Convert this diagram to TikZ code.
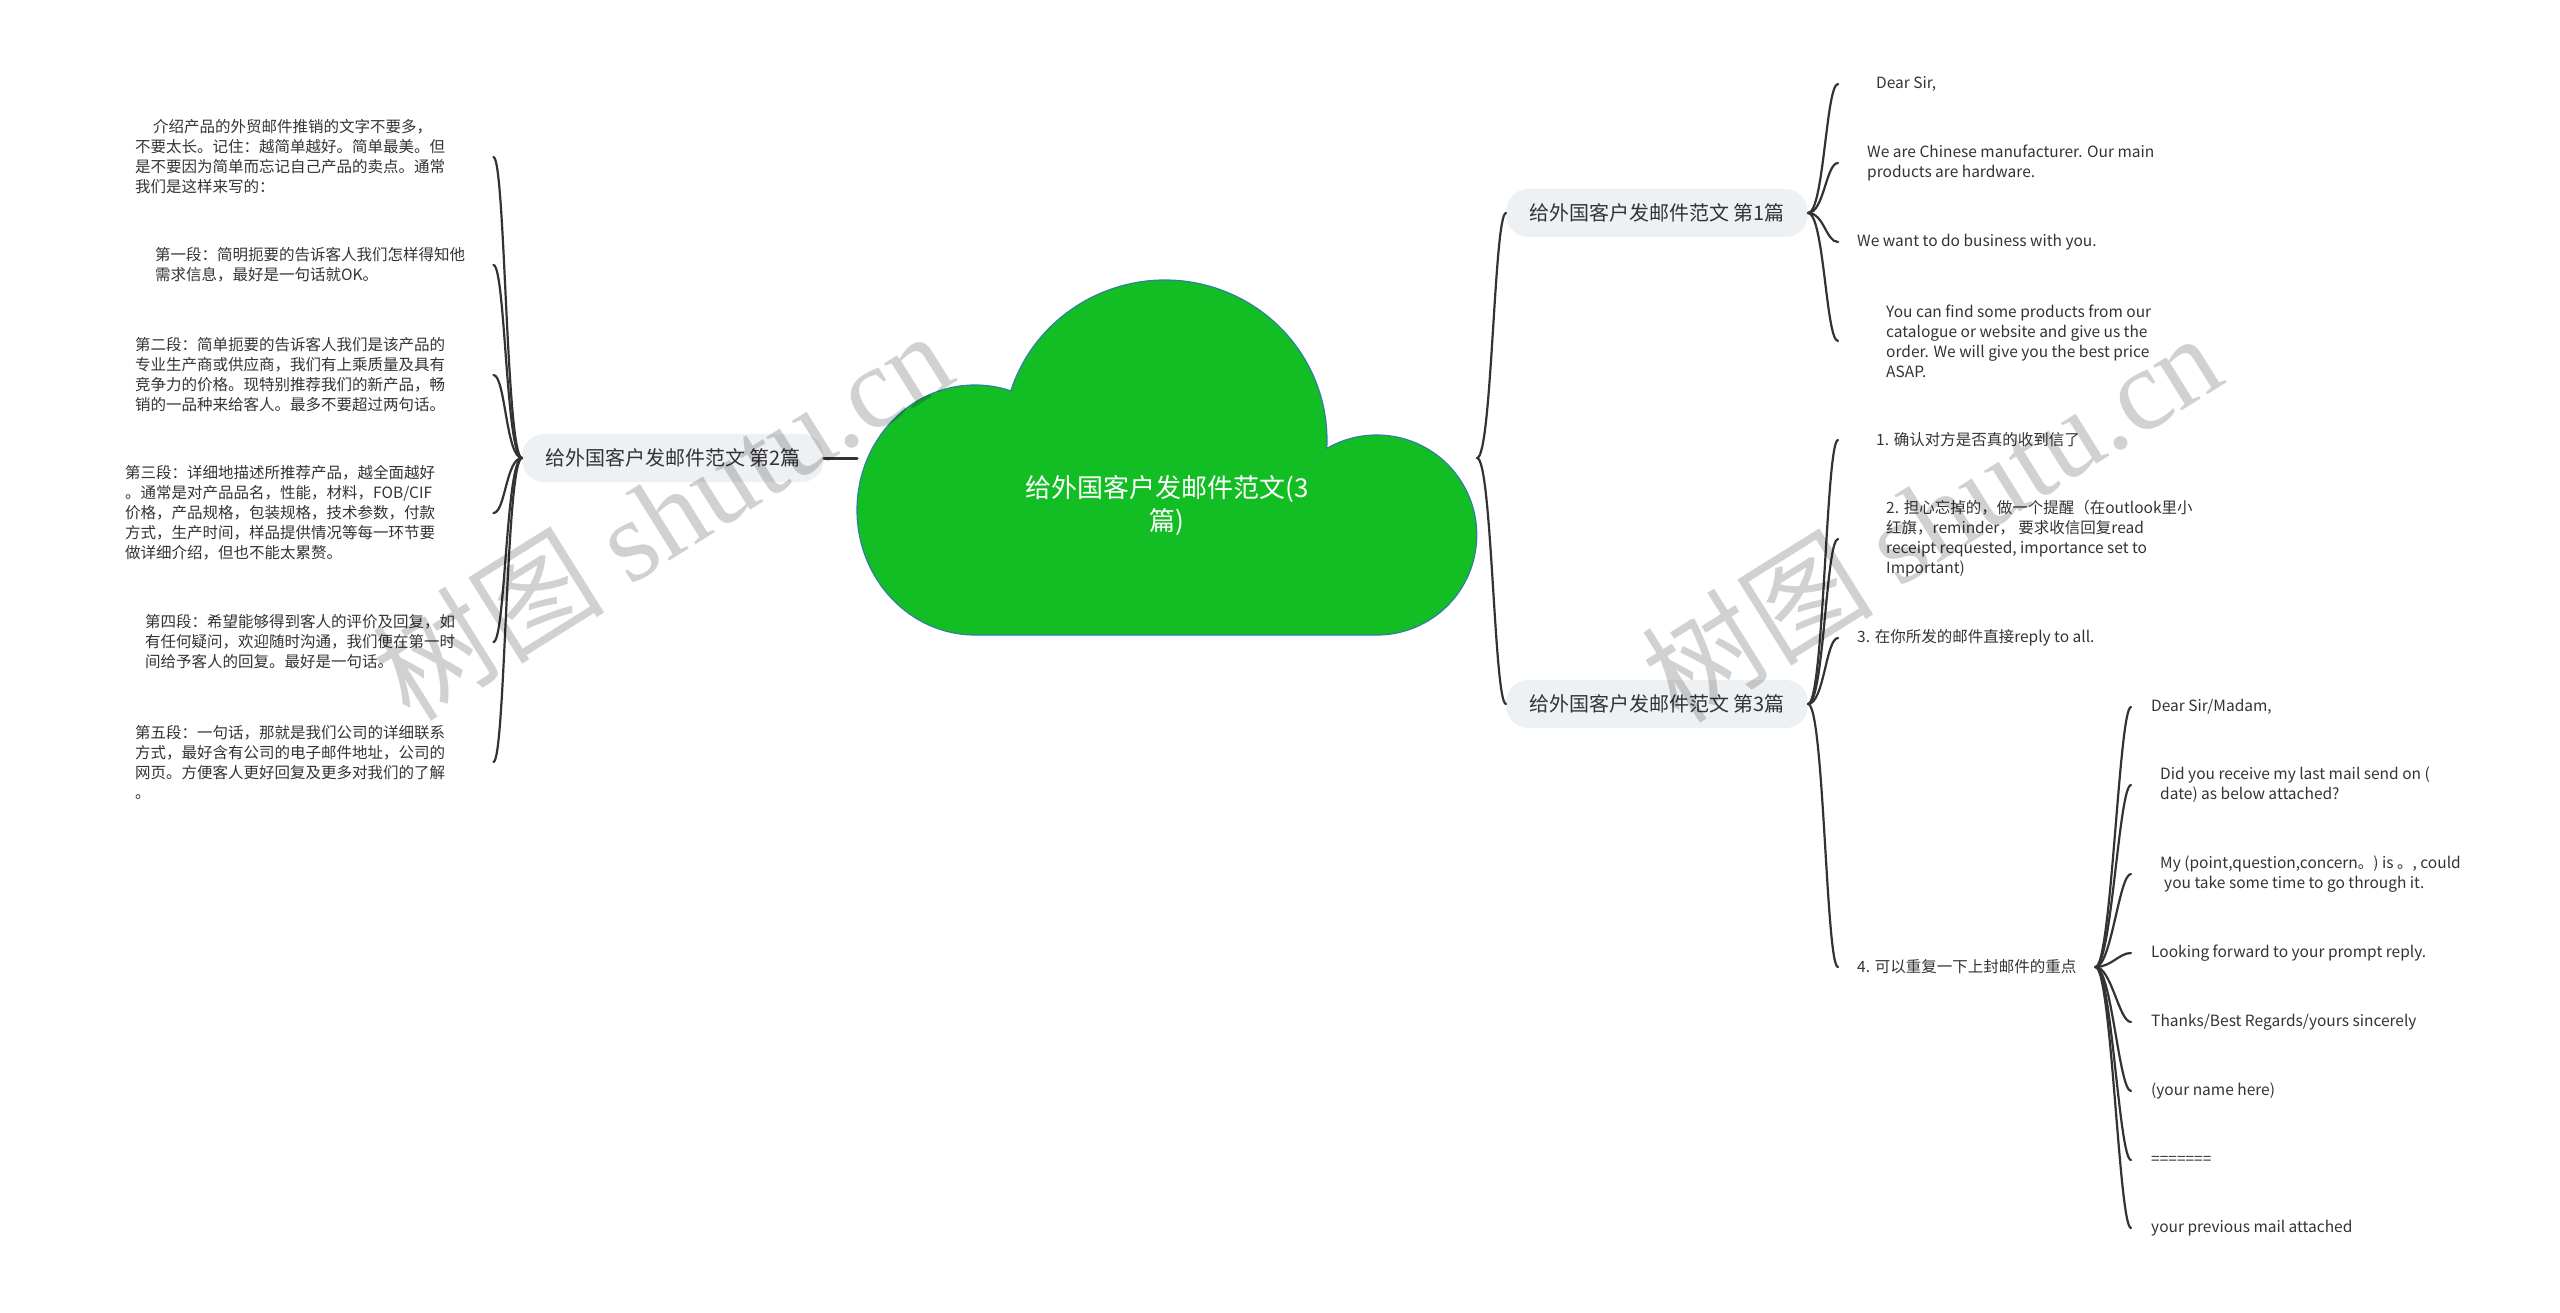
\documentclass[tikz,border=0pt]{standalone}
\usepackage{fontspec}
\setmainfont{Noto Sans CJK SC}
\newfontfamily\wmfont{Liberation Serif}
\definecolor{cloudgreen}{HTML}{13BE24}
\definecolor{cloudedge}{HTML}{2F7FA0}
\definecolor{topicgray}{HTML}{EEF1F4}
\definecolor{inkgray}{HTML}{333333}
\tikzset{
  root/.style={text=white, align=center, font=\fontsize{26}{33}\selectfont},
  topic/.style={fill=topicgray, text=inkgray, rounded corners=22pt, inner xsep=23pt, minimum height=48pt, font=\fontsize{20}{24}\selectfont},
  leaf/.style={anchor=west, inner xsep=#1, inner ysep=0pt, align=left, text=inkgray, font=\fontsize{15.5}{20}\selectfont},
  leaf/.default=19pt,
  note/.style={anchor=west, inner sep=0pt, text width=#1, align=left, text=inkgray, font=\fontsize{15.5}{20}\selectfont},
  branch/.style={draw=inkgray, line width=2.2pt, line cap=round},
  wmark/.style={rotate=32, opacity=0.18, font=\fontsize{116}{120}\selectfont}
}
\begin{document}
\begin{tikzpicture}[x=1pt,y=-1pt]
% 思维导图：给外国客户发邮件范文
\useasboundingbox (0,0) rectangle (2560,1313);
\path[fill=cloudgreen, draw=cloudedge, line width=1.2pt] (1010.9,390.6)
  arc[start angle=-162, end angle=3, x radius=162, y radius=160]
  arc[start angle=-120, end angle=90, radius=100] -- (975,635)
  arc[start angle=90, end angle=287.7, x radius=118, y radius=125] -- cycle;
\node[root] (root) at (1167,506) {给外国客户发邮件范文(3\\篇)};
\coordinate (rootW) at (857,458);
\coordinate (rootE) at (1477,458);
\node[topic] (t1) at (1657,213) {给外国客户发邮件范文 第1篇};
\node[topic] (t2) at (673,458) {给外国客户发邮件范文 第2篇};
\node[topic] (t3) at (1657,704) {给外国客户发邮件范文 第3篇};
\node[leaf=38pt] (a1) at (1838,84) {Dear Sir,};
\node[leaf=29pt] (a2) at (1838,163) {We are Chinese manufacturer. Our main\\products are hardware.};
\node[leaf] (a3) at (1838,242) {We want to do business with you.};
\node[leaf=48pt] (a4) at (1838,341) {You can find some products from our\\catalogue or website and give us the\\order. We will give you the best price\\ASAP.};
\node[note=358pt] (b1) at (135,157) {\hspace*{18pt}介绍产品的外贸邮件推销的文字不要多，\\不要太长。记住：越简单越好。简单最美。但\\是不要因为简单而忘记自己产品的卖点。通常\\我们是这样来写的：};
\node[note=338pt] (b2) at (155,265) {第一段：简明扼要的告诉客人我们怎样得知他\\需求信息，最好是一句话就OK。};
\node[note=358pt] (b3) at (135,375) {第二段：简单扼要的告诉客人我们是该产品的\\专业生产商或供应商，我们有上乘质量及具有\\竞争力的价格。现特别推荐我们的新产品，畅\\销的一品种来给客人。最多不要超过两句话。};
\node[note=368pt] (b4) at (125,513) {第三段：详细地描述所推荐产品，越全面越好\\。通常是对产品品名，性能，材料，FOB/CIF\\价格，产品规格，包装规格，技术参数，付款\\方式，生产时间，样品提供情况等每一环节要\\做详细介绍，但也不能太累赘。};
\node[note=348pt] (b5) at (145,642) {第四段：希望能够得到客人的评价及回复，如\\有任何疑问，欢迎随时沟通，我们便在第一时\\间给予客人的回复。最好是一句话。};
\node[note=358pt] (b6) at (135,762) {第五段：一句话，那就是我们公司的详细联系\\方式，最好含有公司的电子邮件地址，公司的\\网页。方便客人更好回复及更多对我们的了解\\。};
\node[leaf=38pt] (c1) at (1838,440) {1. 确认对方是否真的收到信了};
\node[leaf=48pt] (c2) at (1838,539) {2. 担心忘掉的，做一个提醒（在outlook里小\\红旗，reminder， 要求收信回复read\\receipt requested, importance set to\\Important)};
\node[leaf] (c3) at (1838,638) {3. 在你所发的邮件直接reply to all.};
\node[leaf] (c4) at (1838,967) {4. 可以重复一下上封邮件的重点};
\node[leaf=20pt] (e1) at (2131,707) {Dear Sir/Madam,};
\node[leaf=29pt] (e2) at (2131,785) {Did you receive my last mail send on (\\date) as below attached?};
\node[leaf=29pt] (e3) at (2131,874) {My (point,question,concern。) is 。, could\\\hspace*{4pt}you take some time to go through it.};
\node[leaf=20pt] (e4) at (2131,953) {Looking forward to your prompt reply.};
\node[leaf=20pt] (e5) at (2131,1022) {Thanks/Best Regards/yours sincerely};
\node[leaf=20pt] (e6) at (2131,1091) {(your name here)};
\node[leaf=20pt] (e7) at (2131,1160) {=======};
\node[leaf=20pt] (e8) at (2131,1228) {your previous mail attached};
\draw[branch, line width=3pt] (rootW) -- (t2.east);
\draw[branch] (rootE) .. controls +(15,0) and +(-12,0) .. (t1.west);
\draw[branch] (rootE) .. controls +(15,0) and +(-12,0) .. (t3.west);
\draw[branch] (t1.east) .. controls +(16,0) and +(-12,0) .. (a1.west);
\draw[branch] (t1.east) .. controls +(16,0) and +(-12,0) .. (a2.west);
\draw[branch] (t1.east) .. controls +(16,0) and +(-12,0) .. (a3.west);
\draw[branch] (t1.east) .. controls +(16,0) and +(-12,0) .. (a4.west);
\draw[branch] (t2.west) .. controls +(-16,0) and +(12,0) .. (b1.east);
\draw[branch] (t2.west) .. controls +(-16,0) and +(12,0) .. (b2.east);
\draw[branch] (t2.west) .. controls +(-16,0) and +(12,0) .. (b3.east);
\draw[branch] (t2.west) .. controls +(-16,0) and +(12,0) .. (b4.east);
\draw[branch] (t2.west) .. controls +(-16,0) and +(12,0) .. (b5.east);
\draw[branch] (t2.west) .. controls +(-16,0) and +(12,0) .. (b6.east);
\draw[branch] (t3.east) .. controls +(16,0) and +(-12,0) .. (c1.west);
\draw[branch] (t3.east) .. controls +(16,0) and +(-12,0) .. (c2.west);
\draw[branch] (t3.east) .. controls +(16,0) and +(-12,0) .. (c3.west);
\draw[branch] (t3.east) .. controls +(16,0) and +(-12,0) .. (c4.west);
\draw[branch] (c4.east) .. controls +(16,0) and +(-12,0) .. (e1.west);
\draw[branch] (c4.east) .. controls +(16,0) and +(-12,0) .. (e2.west);
\draw[branch] (c4.east) .. controls +(16,0) and +(-12,0) .. (e3.west);
\draw[branch] (c4.east) .. controls +(16,0) and +(-12,0) .. (e4.west);
\draw[branch] (c4.east) .. controls +(16,0) and +(-12,0) .. (e5.west);
\draw[branch] (c4.east) .. controls +(16,0) and +(-12,0) .. (e6.west);
\draw[branch] (c4.east) .. controls +(16,0) and +(-12,0) .. (e7.west);
\draw[branch] (c4.east) .. controls +(16,0) and +(-12,0) .. (e8.west);
\node[wmark] (wm1) at (662,514) {树图 {\wmfont shutu.cn}};
\node[wmark] (wm2) at (1931,516) {树图 {\wmfont shutu.cn}};
\end{tikzpicture}
\end{document}
